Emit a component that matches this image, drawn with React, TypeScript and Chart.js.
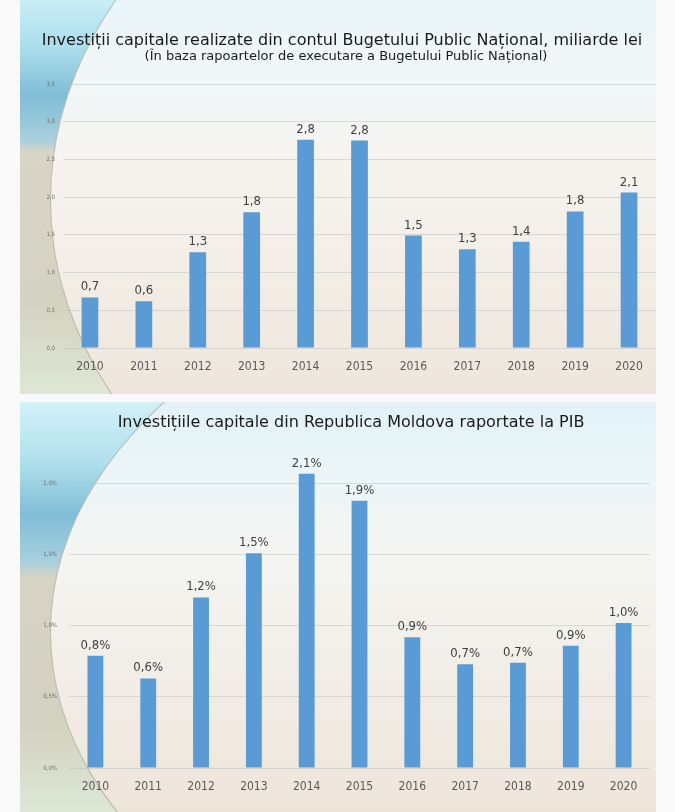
import React, { useEffect, useRef } from "react";
import { Chart, registerables } from "chart.js";

Chart.register(...registerables);

const years = ["2010", "2011", "2012", "2013", "2014", "2015", "2016", "2017", "2018", "2019", "2020"];
const investBn = [0.67, 0.62, 1.27, 1.8, 2.76, 2.75, 1.49, 1.31, 1.41, 1.81, 2.06];
const investPct = [0.79, 0.63, 1.2, 1.51, 2.07, 1.88, 0.92, 0.73, 0.74, 0.86, 1.02];

const title1 = "Investiții capitale realizate din contul Bugetului Public Național, miliarde lei";
const subtitle1 = "(În baza rapoartelor de executare a Bugetului Public Național)";
const title2 = "Investițiile capitale din Republica Moldova raportate la PIB";

const FONT = '"DejaVu Sans Condensed", "DejaVu Sans", sans-serif';
const TITLE_FONT = '"DejaVu Sans", sans-serif';
const BAR = "#5b9bd5";

const fmt = (v: number) => v.toFixed(1).replace(".", ",");

const valueLabels = {
  id: "valueLabels",
  afterDatasetsDraw(chart: any, _args: any, opts: any) {
    const ctx = chart.ctx;
    const meta = chart.getDatasetMeta(0);
    const data = chart.data.datasets[0].data;
    ctx.save();
    ctx.font = `13px ${FONT}`;
    ctx.fillStyle = "#404040";
    ctx.textAlign = "center";
    ctx.textBaseline = "alphabetic";
    meta.data.forEach((bar: any, i: number) => {
      ctx.fillText(fmt(data[i]) + (opts.suffix || ""), bar.x, bar.y - 7);
    });
    ctx.restore();
  },
};

type Cfg = {
  values: number[];
  max: number;
  suffix: string;
  padTop: number;
  padRight: number;
  yWidth: number;
  xHeight: number;
  yPad: number;
  barPct: number;
};

function BarChart({ cfg }: { cfg: Cfg }) {
  const ref = useRef<HTMLCanvasElement>(null);
  useEffect(() => {
    if (!ref.current) return;
    const chart = new Chart(ref.current, {
      type: "bar",
      data: {
        labels: years,
        datasets: [
          {
            data: cfg.values,
            backgroundColor: BAR,
            barPercentage: cfg.barPct,
            categoryPercentage: 1,
          },
        ],
      },
      plugins: [valueLabels as any],
      options: {
        animation: false,
        responsive: true,
        maintainAspectRatio: false,
        layout: { padding: { top: cfg.padTop, left: 0, right: cfg.padRight, bottom: 0 } },
        plugins: {
          legend: { display: false },
          tooltip: { enabled: false },
          title: { display: false },
          valueLabels: { suffix: cfg.suffix },
        } as any,
        scales: {
          x: {
            grid: { display: false, drawTicks: false },
            border: { display: false },
            ticks: {
              color: "#595959",
              font: { family: FONT, size: 12 },
              padding: 12,
              maxRotation: 0,
              autoSkip: false,
            },
            afterFit: (s: any) => {
              s.height = cfg.xHeight;
            },
          },
          y: {
            min: 0,
            max: cfg.max,
            grid: { color: "rgba(185,185,185,0.45)", lineWidth: 1, drawTicks: false },
            border: { display: false },
            ticks: {
              stepSize: 0.5,
              color: "#6f6f6f",
              font: { family: FONT, size: 6 },
              padding: cfg.yPad,
              callback: (v: any) => fmt(Number(v)) + cfg.suffix,
            },
            afterBuildTicks: (s: any) => {
              s.ticks = s.ticks.filter((t: any) => Math.abs(t.value * 2 - Math.round(t.value * 2)) < 1e-6);
            },
            afterFit: (s: any) => {
              s.width = cfg.yWidth;
            },
          },
        },
      },
    });
    return () => chart.destroy();
  }, []);
  return <canvas ref={ref} />;
}

const panelBase: React.CSSProperties = {
  position: "absolute",
  left: 20,
  width: 636,
  overflow: "hidden",
};

const titleBase: React.CSSProperties = {
  position: "absolute",
  left: 0,
  textAlign: "center",
  color: "#1a1a1a",
  whiteSpace: "nowrap",
  fontFamily: TITLE_FONT,
  zIndex: 2,
};

export default function App() {
  const cfg1: Cfg = {
    values: investBn,
    max: 3.5,
    suffix: "",
    padTop: 84,
    padRight: 0,
    yWidth: 43,
    xHeight: 46,
    yPad: 8,
    barPct: 0.31,
  };
  const cfg2: Cfg = {
    values: investPct,
    max: 2.3,
    suffix: "%",
    padTop: 39,
    padRight: 6,
    yWidth: 49,
    xHeight: 44,
    yPad: 12,
    barPct: 0.3,
  };
  return (
    <div
      style={{
        position: "absolute",
        left: 0,
        top: 0,
        width: 675,
        height: 812,
        background: "#f9f9f9",
        overflow: "hidden",
        fontFamily: FONT,
      }}
    >
      {/* Panel 1 */}
      <div
        style={{
          ...panelBase,
          top: 0,
          height: 394,
          background:
            "linear-gradient(to bottom, #c9eef6 0px, #a9dcea 50px, #80bdd6 95px, #a9cfdd 140px, #d8d5c6 152px, #d4d2c0 300px, #dde6d4 394px)",
        }}
      >
        <div
          style={{
            position: "absolute",
            left: 30,
            top: -238,
            width: 1180,
            height: 876,
            borderRadius: "50%",
            border: "1.5px solid rgba(150,140,120,0.55)",
            boxSizing: "border-box",
            background:
              "linear-gradient(to bottom, #e9f5f9 238px, #f1f7f8 318px, #f6f3ef 400px, #eee6dc 632px)",
          }}
        />
        <div style={{ ...titleBase, top: 30, width: 644, fontSize: 16, lineHeight: "20px" }}>{title1}</div>
        <div style={{ ...titleBase, top: 48, width: 652, fontSize: 13, lineHeight: "16px" }}>{subtitle1}</div>
        <div style={{ position: "absolute", left: 0, top: 0, width: 636, height: 394 }}>
          <BarChart cfg={cfg1} />
        </div>
      </div>

      {/* Panel 2 */}
      <div
        style={{
          ...panelBase,
          top: 402,
          height: 410,
          background:
            "linear-gradient(to bottom, #d2f1f7 0px, #b0e0ec 60px, #80bdd6 112px, #a8d0de 160px, #d6d3c4 175px, #d3d1bf 320px, #dde7d6 410px)",
        }}
      >
        <div
          style={{
            position: "absolute",
            left: 30,
            top: -160,
            width: 1180,
            height: 780,
            borderRadius: "50%",
            border: "1.5px solid rgba(150,140,120,0.55)",
            boxSizing: "border-box",
            background:
              "linear-gradient(to bottom, #e2f2f8 160px, #eaf5f8 220px, #f4f5f2 310px, #eee5da 570px)",
          }}
        />
        <div style={{ ...titleBase, top: 10, width: 662, fontSize: 16, lineHeight: "20px" }}>{title2}</div>
        <div style={{ position: "absolute", left: 0, top: 0, width: 636, height: 410 }}>
          <BarChart cfg={cfg2} />
        </div>
      </div>
    </div>
  );
}
